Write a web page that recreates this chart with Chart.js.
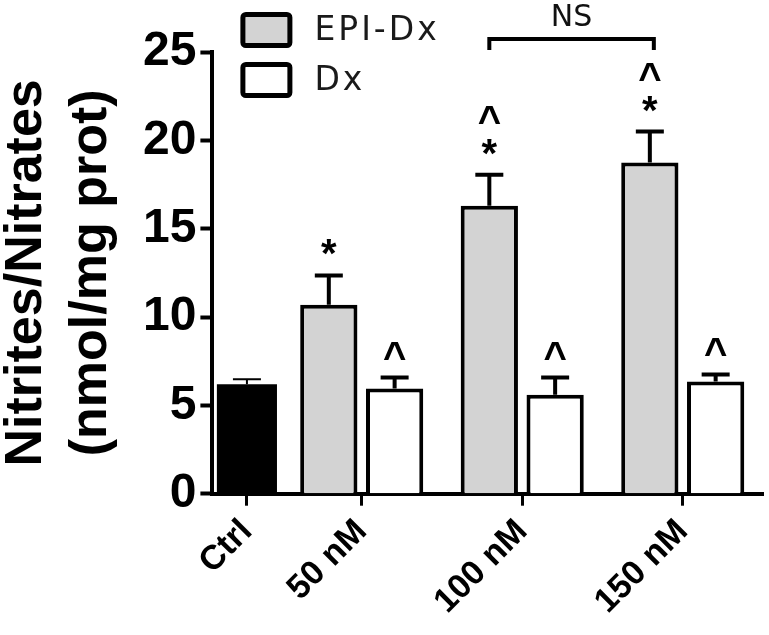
<!DOCTYPE html>
<html>
<head>
<meta charset="utf-8">
<script src="https://cdn.jsdelivr.net/npm/chart.js@4.4.1/dist/chart.umd.min.js"></script>
<style>
  html, body { margin: 0; padding: 0; background: #fff; }
  #wrap { width: 769px; height: 635px; position: relative; }
</style>
</head>
<body>
<div id="wrap"><canvas id="nitriteChart"></canvas></div>
<script>
// Valores (nmol/mg prot)
const ctrlLabels = ['Ctrl'];
const doseLabels = ['50 nM', '100 nM', '150 nM'];

const ctrlMean = [6.2];
const ctrlSem = [0.28];

const epiMean = [10.7, 16.3, 18.75];
const epiSem = [1.65, 1.75, 1.75];

const dxMean = [5.95, 5.6, 6.35];
const dxSem = [0.62, 0.97, 0.4];

// marcas de significância (de baixo para cima)
const epiMarks = [['*'], ['*', '^'], ['*', '^']];
const dxMarks = [['^'], ['^'], ['^']];

const yTicks = [0, 5, 10, 15, 20, 25];

const FONT = "'Liberation Sans', Arial, sans-serif";
const SOFT_FONT = "'DejaVu Sans', sans-serif";

// Barras de erro (só a parte de cima, como no GraphPad)
const errorBars = {
  id: 'errorBars',
  afterDatasetsDraw(chart) {
    const ctx = chart.ctx;
    const y = chart.scales.y;
    chart.data.datasets.forEach((ds, i) => {
      const meta = chart.getDatasetMeta(i);
      if (!ds.sem) return;
      ctx.save();
      ctx.strokeStyle = '#000';
      ctx.lineWidth = ds.errWidth || 4;
      meta.data.forEach((bar, j) => {
        const top = y.getPixelForValue(ds.data[j] + ds.sem[j]);
        ctx.beginPath();
        ctx.moveTo(bar.x, bar.y);
        ctx.lineTo(bar.x, top);
        ctx.moveTo(bar.x - 14, top);
        ctx.lineTo(bar.x + 14, top);
        ctx.stroke();

        // asteriscos e ^ acima da barra de erro
        if (ds.marks && ds.marks[j]) {
          ctx.fillStyle = '#000';
          ctx.font = 'bold 40px ' + FONT;
          ctx.textAlign = 'center';
          ctx.textBaseline = 'alphabetic';
          ds.marks[j].forEach((m, k) => {
            const cy = top - 30 - 33 * k;
            ctx.fillText(m, bar.x, cy + 22);
          });
        }
      });
      ctx.restore();
    });
  }
};

// Colchete "NS" entre EPI-Dx 100 nM e 150 nM
const nsBracket = {
  id: 'nsBracket',
  afterDraw(chart) {
    const ctx = chart.ctx;
    const meta = chart.getDatasetMeta(1);
    const a = meta.data[1], b = meta.data[2];
    const top = chart.chartArea.top;
    ctx.save();
    ctx.strokeStyle = '#000';
    ctx.lineWidth = 4;
    ctx.beginPath();
    ctx.moveTo(a.x, top - 2);
    ctx.lineTo(a.x, top - 13);
    ctx.lineTo(b.x + 4, top - 13);
    ctx.lineTo(b.x + 4, top - 2);
    ctx.stroke();
    ctx.fillStyle = '#111';
    ctx.font = '30px ' + SOFT_FONT;
    ctx.textAlign = 'center';
    ctx.textBaseline = 'middle';
    ctx.fillText('NS', (a.x + b.x + 4) / 2, top - 34);
    ctx.restore();
  }
};

// Legenda desenhada dentro do gráfico
const boxLegend = {
  id: 'boxLegend',
  afterDraw(chart) {
    const ctx = chart.ctx;
    const x0 = chart.chartArea.left + 28;
    let yy = 12;
    ctx.save();
    chart.data.datasets.forEach(ds => {
      if (!ds.inLegend) return;
      ctx.fillStyle = ds.backgroundColor;
      ctx.strokeStyle = '#000';
      ctx.lineWidth = 5;
      ctx.beginPath();
      ctx.roundRect(x0 + 2.5, yy + 2.5, 47, 31, 3);
      ctx.fill();
      ctx.stroke();
      ctx.fillStyle = '#1a1a1a';
      ctx.font = '33px ' + SOFT_FONT;
      ctx.letterSpacing = '3px';
      ctx.textAlign = 'left';
      ctx.textBaseline = 'middle';
      ctx.fillText(ds.label, x0 + 74, yy + 19);
      yy += 50;
    });
    ctx.restore();
  }
};

const axisGrid = {
  drawOnChartArea: false,
  offset: false,
  color: '#000',
  tickLength: 12,
  tickWidth: 3
};

const xTicks = {
  color: '#000',
  font: { family: FONT, size: 34, weight: 'bold' },
  minRotation: 45,
  maxRotation: 45,
  autoSkip: false,
  padding: 6
};

// os rótulos girados não devem empurrar a área do gráfico
const noSidePadding = (scale) => { scale.paddingLeft = 0; scale.paddingRight = 0; };

new Chart(document.getElementById('nitriteChart'), {
  type: 'bar',
  data: {
    datasets: [
      {
        label: 'Ctrl',
        indexAxis: 'x',
        xAxisID: 'x1',
        data: ctrlMean,
        sem: ctrlSem,
        errWidth: 2,
        backgroundColor: '#000',
        borderWidth: 0,
        categoryPercentage: 1,
        barPercentage: 0.87
      },
      {
        label: 'EPI-Dx',
        inLegend: true,
        indexAxis: 'x',
        xAxisID: 'x2',
        data: epiMean,
        sem: epiSem,
        marks: epiMarks,
        backgroundColor: '#d3d3d3',
        borderColor: '#000',
        borderWidth: 4,
        categoryPercentage: 0.82,
        barPercentage: 0.87
      },
      {
        label: 'Dx',
        inLegend: true,
        indexAxis: 'x',
        xAxisID: 'x2',
        data: dxMean,
        sem: dxSem,
        marks: dxMarks,
        backgroundColor: '#ffffff',
        borderColor: '#000',
        borderWidth: 4,
        categoryPercentage: 0.82,
        barPercentage: 0.87
      }
    ]
  },
  options: {
    // no nível do gráfico, para que os dois eixos x não dividam as barras entre si
    indexAxis: 'y',
    responsive: true,
    maintainAspectRatio: false,
    animation: false,
    layout: { padding: { top: 52, right: 6, bottom: 27, left: 0 } },
    plugins: {
      legend: { display: false },
      tooltip: { enabled: false }
    },
    scales: {
      x1: {
        type: 'category',
        labels: ctrlLabels,
        position: 'bottom',
        stack: 'xs',
        stackWeight: 70,
        offset: true,
        grid: axisGrid,
        border: { color: '#000', width: 4 },
        ticks: xTicks,
        afterFit: noSidePadding
      },
      x2: {
        type: 'category',
        labels: doseLabels,
        position: 'bottom',
        stack: 'xs',
        stackWeight: 488,
        offset: true,
        grid: axisGrid,
        border: { color: '#000', width: 4 },
        ticks: xTicks,
        afterFit: noSidePadding
      },
      y: {
        type: 'linear',
        position: 'left',
        offset: false,
        min: 0,
        max: 25,
        afterBuildTicks: (axis) => { axis.ticks = yTicks.map(v => ({ value: v })); },
        grid: { drawOnChartArea: false, offset: false, color: '#000', tickLength: 12, tickWidth: 4 },
        border: { color: '#000', width: 4 },
        ticks: {
          color: '#000',
          font: { family: FONT, size: 48, weight: 'bold' },
          padding: 4
        },
        title: {
          display: true,
          text: ['Nitrites/Nitrates', '(nmol/mg prot)'],
          color: '#000',
          font: { family: FONT, size: 52, weight: 'bold', lineHeight: 1.25 },
          padding: { top: -6, bottom: 15 }
        }
      }
    }
  },
  plugins: [errorBars, nsBracket, boxLegend]
});
</script>
</body>
</html>
